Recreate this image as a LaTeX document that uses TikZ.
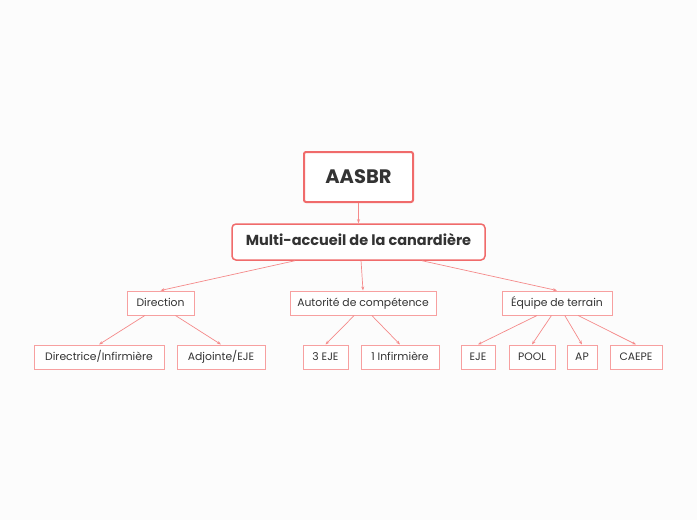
\documentclass[tikz,border=0pt]{standalone}
\usepackage{fontspec}
\setmainfont{Poppins}
\usepackage{tikz}
\usetikzlibrary{arrows.meta, positioning, calc}
\definecolor{bgcol}{HTML}{FCFCFC}
\definecolor{topred}{HTML}{F06B6B}
\definecolor{lowred}{HTML}{F7A0A0}
\definecolor{linkred}{HTML}{F58A8A}
\definecolor{txt}{HTML}{333333}

\begin{document}
\begin{tikzpicture}[x=1pt, y=-1pt,
    rootbox/.style={draw=topred, line width=2pt, rounded corners=2pt, fill=white, text=txt,
        font=\fontsize{19.5}{22}\selectfont\bfseries, minimum width=109pt, minimum height=50pt},
    mainbox/.style={draw=topred, line width=1.5pt, rounded corners=4pt, fill=white, text=txt,
        font=\fontsize{14.5}{17}\selectfont\bfseries, minimum width=253pt, minimum height=36pt,
        text height=0.7em, text depth=0.02em},
    subbox/.style={draw=lowred, line width=1pt, fill=white, text=txt,
        font=\fontsize{10.8}{13}\selectfont, minimum height=24pt, inner xsep=3pt,
        text height=0.7em, text depth=0.1em},
    link/.style={draw=linkred, line width=0.7pt, -{Stealth[length=4pt,width=3pt]}}]
		\useasboundingbox[fill=bgcol] (0,0) rectangle (697,520);
		\draw (358.5,177) node[rootbox] (root) {AASBR}
		(358.5,242) node[mainbox] (mac) {Multi-accueil de la canardière}
		(160.5,303) node[subbox, minimum width=67pt] (dir) {Direction}
		(363,303) node[subbox, minimum width=146pt] (aut) {Autorité de compétence}
		(557,303) node[subbox, minimum width=110pt] (equ) {Équipe de terrain}
		(99,357) node[subbox, minimum width=130pt] (dirinf) {Directrice/Infirmière}
		(221,357) node[subbox, minimum width=88pt] (adj) {Adjointe/EJE}
		(325.5,357) node[subbox, minimum width=45pt] (eje3) {3 EJE}
		(400,357) node[subbox, minimum width=78pt] (inf1) {1 Infirmière}
		(478,357) node[subbox, minimum width=34pt] (eje) {EJE}
		(532,357) node[subbox, minimum width=46pt] (pool) {POOL}
		(582,357) node[subbox, minimum width=30pt] (ap) {AP}
		(636,357) node[subbox, minimum width=52pt] (caepe) {CAEPE};

		\draw[link] (root) -- (mac);
		\draw[link] ($(mac.south west)!0.25!(mac.south east)$) -- (dir.north);
		\draw[link] ($(mac.south west)!0.51!(mac.south east)$) -- (aut.north);
		\draw[link] ($(mac.south west)!0.75!(mac.south east)$) -- (equ.north);
		\draw[link] ($(dir.south west)!0.27!(dir.south east)$) -- (dirinf.north);
		\draw[link] ($(dir.south west)!0.72!(dir.south east)$) -- (adj.north);
		\draw[link] ($(aut.south west)!0.44!(aut.south east)$) -- (eje3.north);
		\draw[link] ($(aut.south west)!0.56!(aut.south east)$) -- (inf1.north);
		\draw[link] ($(equ.south west)!0.32!(equ.south east)$) -- (eje.north);
		\draw[link] ($(equ.south west)!0.45!(equ.south east)$) -- (pool.north);
		\draw[link] ($(equ.south west)!0.57!(equ.south east)$) -- (ap.north);
		\draw[link] ($(equ.south west)!0.69!(equ.south east)$) -- (caepe.north);
	\end{tikzpicture}
\end{document}
